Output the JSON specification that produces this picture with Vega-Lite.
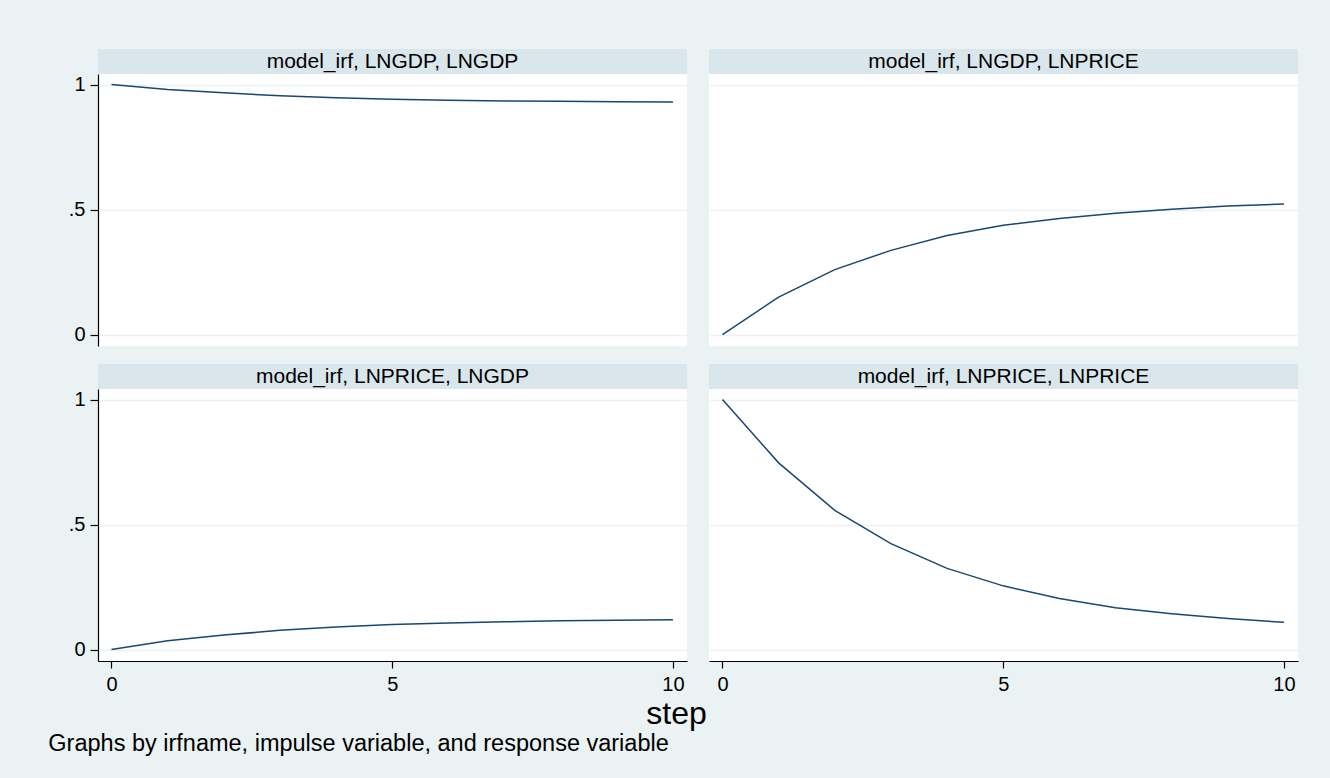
{
  "$schema": "https://vega.github.io/schema/vega-lite/v6.json",
  "background": "#EAF2F3",
  "padding": {"left": 48, "top": 49, "right": 32, "bottom": 22},
  "datasets": {
    "irf": [
      {"impulse": "LNGDP", "response": "LNGDP", "step": 0, "irf": 1.0},
      {"impulse": "LNGDP", "response": "LNGDP", "step": 1, "irf": 0.980},
      {"impulse": "LNGDP", "response": "LNGDP", "step": 2, "irf": 0.967},
      {"impulse": "LNGDP", "response": "LNGDP", "step": 3, "irf": 0.955},
      {"impulse": "LNGDP", "response": "LNGDP", "step": 4, "irf": 0.947},
      {"impulse": "LNGDP", "response": "LNGDP", "step": 5, "irf": 0.941},
      {"impulse": "LNGDP", "response": "LNGDP", "step": 6, "irf": 0.937},
      {"impulse": "LNGDP", "response": "LNGDP", "step": 7, "irf": 0.934},
      {"impulse": "LNGDP", "response": "LNGDP", "step": 8, "irf": 0.933},
      {"impulse": "LNGDP", "response": "LNGDP", "step": 9, "irf": 0.931},
      {"impulse": "LNGDP", "response": "LNGDP", "step": 10, "irf": 0.930},
      {"impulse": "LNGDP", "response": "LNPRICE", "step": 0, "irf": 0.0},
      {"impulse": "LNGDP", "response": "LNPRICE", "step": 1, "irf": 0.150},
      {"impulse": "LNGDP", "response": "LNPRICE", "step": 2, "irf": 0.260},
      {"impulse": "LNGDP", "response": "LNPRICE", "step": 3, "irf": 0.337},
      {"impulse": "LNGDP", "response": "LNPRICE", "step": 4, "irf": 0.396},
      {"impulse": "LNGDP", "response": "LNPRICE", "step": 5, "irf": 0.437},
      {"impulse": "LNGDP", "response": "LNPRICE", "step": 6, "irf": 0.464},
      {"impulse": "LNGDP", "response": "LNPRICE", "step": 7, "irf": 0.485},
      {"impulse": "LNGDP", "response": "LNPRICE", "step": 8, "irf": 0.501},
      {"impulse": "LNGDP", "response": "LNPRICE", "step": 9, "irf": 0.514},
      {"impulse": "LNGDP", "response": "LNPRICE", "step": 10, "irf": 0.522},
      {"impulse": "LNPRICE", "response": "LNGDP", "step": 0, "irf": 0.0},
      {"impulse": "LNPRICE", "response": "LNGDP", "step": 1, "irf": 0.035},
      {"impulse": "LNPRICE", "response": "LNGDP", "step": 2, "irf": 0.058},
      {"impulse": "LNPRICE", "response": "LNGDP", "step": 3, "irf": 0.077},
      {"impulse": "LNPRICE", "response": "LNGDP", "step": 4, "irf": 0.090},
      {"impulse": "LNPRICE", "response": "LNGDP", "step": 5, "irf": 0.100},
      {"impulse": "LNPRICE", "response": "LNGDP", "step": 6, "irf": 0.106},
      {"impulse": "LNPRICE", "response": "LNGDP", "step": 7, "irf": 0.111},
      {"impulse": "LNPRICE", "response": "LNGDP", "step": 8, "irf": 0.115},
      {"impulse": "LNPRICE", "response": "LNGDP", "step": 9, "irf": 0.117},
      {"impulse": "LNPRICE", "response": "LNGDP", "step": 10, "irf": 0.119},
      {"impulse": "LNPRICE", "response": "LNPRICE", "step": 0, "irf": 1.0},
      {"impulse": "LNPRICE", "response": "LNPRICE", "step": 1, "irf": 0.747},
      {"impulse": "LNPRICE", "response": "LNPRICE", "step": 2, "irf": 0.557},
      {"impulse": "LNPRICE", "response": "LNPRICE", "step": 3, "irf": 0.424},
      {"impulse": "LNPRICE", "response": "LNPRICE", "step": 4, "irf": 0.325},
      {"impulse": "LNPRICE", "response": "LNPRICE", "step": 5, "irf": 0.255},
      {"impulse": "LNPRICE", "response": "LNPRICE", "step": 6, "irf": 0.204},
      {"impulse": "LNPRICE", "response": "LNPRICE", "step": 7, "irf": 0.167},
      {"impulse": "LNPRICE", "response": "LNPRICE", "step": 8, "irf": 0.143},
      {"impulse": "LNPRICE", "response": "LNPRICE", "step": 9, "irf": 0.124},
      {"impulse": "LNPRICE", "response": "LNPRICE", "step": 10, "irf": 0.109}
    ],
    "headers": [
      {"impulse": "LNGDP", "response": "LNGDP", "label": "model_irf, LNGDP, LNGDP"},
      {"impulse": "LNGDP", "response": "LNPRICE", "label": "model_irf, LNGDP, LNPRICE"},
      {"impulse": "LNPRICE", "response": "LNGDP", "label": "model_irf, LNPRICE, LNGDP"},
      {"impulse": "LNPRICE", "response": "LNPRICE", "label": "model_irf, LNPRICE, LNPRICE"}
    ]
  },
  "title": {
    "text": "Graphs by irfname, impulse variable, and response variable",
    "orient": "bottom",
    "anchor": "start",
    "font": "Liberation Sans",
    "fontSize": 23.5,
    "fontWeight": "normal",
    "color": "black",
    "offset": 3,
    "dx": -20
  },
  "columns": 2,
  "spacing": {"row": 18, "column": 2},
  "concat": [
    {
      "spacing": 0,
      "vconcat": [
        {
          "width": 589, "height": 25,
          "view": {"fill": "#D9E6EB", "stroke": null},
          "data": {"name": "headers"},
          "transform": [{"filter": "datum.impulse == 'LNGDP' && datum.response == 'LNGDP'"}],
          "mark": {"type": "text", "font": "Liberation Sans", "fontSize": 21, "baseline": "middle", "color": "black"},
          "encoding": {"text": {"field": "label"}}
        },
        {
          "width": 589, "height": 272,
          "view": {"fill": "white", "stroke": null},
          "data": {"name": "irf"},
          "transform": [{"filter": "datum.impulse == 'LNGDP' && datum.response == 'LNGDP'"}],
          "mark": {"type": "line", "color": "#1A476F", "strokeWidth": 1.5},
          "encoding": {
            "x": {"field": "step", "type": "quantitative", "scale": {"domain": [-0.24, 10.25], "nice": false, "zero": false}, "axis": null},
            "y": {"field": "irf", "type": "quantitative", "scale": {"domain": [-0.0456, 1.0424], "nice": false, "zero": false},
              "axis": {"title": null, "values": [0, 0.5, 1], "labelExpr": "datum.value == 0.5 ? '.5' : format(datum.value, 'd')", "grid": true, "gridColor": "#EAF2F3", "gridWidth": 1.3, "domain": true, "domainColor": "black", "domainWidth": 1.2, "ticks": true, "tickColor": "black", "tickSize": 8, "tickWidth": 1.2, "labelFont": "Liberation Sans", "labelFontSize": 20, "labelColor": "black", "labelPadding": 5}}
          }
        }
      ]
    },
    {
      "spacing": 0,
      "vconcat": [
        {
          "width": 589, "height": 25,
          "view": {"fill": "#D9E6EB", "stroke": null},
          "data": {"name": "headers"},
          "transform": [{"filter": "datum.impulse == 'LNGDP' && datum.response == 'LNPRICE'"}],
          "mark": {"type": "text", "font": "Liberation Sans", "fontSize": 21, "baseline": "middle", "color": "black"},
          "encoding": {"text": {"field": "label"}}
        },
        {
          "width": 589, "height": 272,
          "view": {"fill": "white", "stroke": null},
          "data": {"name": "irf"},
          "transform": [{"filter": "datum.impulse == 'LNGDP' && datum.response == 'LNPRICE'"}],
          "mark": {"type": "line", "color": "#1A476F", "strokeWidth": 1.5},
          "encoding": {
            "x": {"field": "step", "type": "quantitative", "scale": {"domain": [-0.24, 10.25], "nice": false, "zero": false}, "axis": null},
            "y": {"field": "irf", "type": "quantitative", "scale": {"domain": [-0.0456, 1.0424], "nice": false, "zero": false},
              "axis": {"title": null, "values": [0, 0.5, 1], "grid": true, "gridColor": "#EAF2F3", "gridWidth": 1.3, "domain": false, "ticks": false, "labels": false}}
          }
        }
      ]
    },
    {
      "spacing": 0,
      "vconcat": [
        {
          "width": 589, "height": 25,
          "view": {"fill": "#D9E6EB", "stroke": null},
          "data": {"name": "headers"},
          "transform": [{"filter": "datum.impulse == 'LNPRICE' && datum.response == 'LNGDP'"}],
          "mark": {"type": "text", "font": "Liberation Sans", "fontSize": 21, "baseline": "middle", "color": "black"},
          "encoding": {"text": {"field": "label"}}
        },
        {
          "width": 589, "height": 272,
          "view": {"fill": "white", "stroke": null},
          "data": {"name": "irf"},
          "transform": [{"filter": "datum.impulse == 'LNPRICE' && datum.response == 'LNGDP'"}],
          "mark": {"type": "line", "color": "#1A476F", "strokeWidth": 1.5},
          "encoding": {
            "x": {"field": "step", "type": "quantitative", "scale": {"domain": [-0.24, 10.25], "nice": false, "zero": false},
              "axis": {"title": "step", "values": [0, 5, 10], "format": "d", "grid": false, "domain": true, "domainColor": "black", "domainWidth": 1.2, "ticks": true, "tickColor": "black", "tickSize": 7, "tickWidth": 1.2, "labelFont": "Liberation Sans", "labelFontSize": 20, "labelColor": "black", "labelPadding": 6, "titleFont": "Liberation Sans", "titleFontSize": 32, "titleFontWeight": "normal", "titleColor": "black", "titleX": 578, "titleY": 62, "titleBaseline": "alphabetic", "titleAnchor": "middle", "titleAlign": "center"}},
            "y": {"field": "irf", "type": "quantitative", "scale": {"domain": [-0.0456, 1.0424], "nice": false, "zero": false},
              "axis": {"title": null, "values": [0, 0.5, 1], "labelExpr": "datum.value == 0.5 ? '.5' : format(datum.value, 'd')", "grid": true, "gridColor": "#EAF2F3", "gridWidth": 1.3, "domain": true, "domainColor": "black", "domainWidth": 1.2, "ticks": true, "tickColor": "black", "tickSize": 8, "tickWidth": 1.2, "labelFont": "Liberation Sans", "labelFontSize": 20, "labelColor": "black", "labelPadding": 5}}
          }
        }
      ]
    },
    {
      "spacing": 0,
      "vconcat": [
        {
          "width": 589, "height": 25,
          "view": {"fill": "#D9E6EB", "stroke": null},
          "data": {"name": "headers"},
          "transform": [{"filter": "datum.impulse == 'LNPRICE' && datum.response == 'LNPRICE'"}],
          "mark": {"type": "text", "font": "Liberation Sans", "fontSize": 21, "baseline": "middle", "color": "black"},
          "encoding": {"text": {"field": "label"}}
        },
        {
          "width": 589, "height": 272,
          "view": {"fill": "white", "stroke": null},
          "data": {"name": "irf"},
          "transform": [{"filter": "datum.impulse == 'LNPRICE' && datum.response == 'LNPRICE'"}],
          "mark": {"type": "line", "color": "#1A476F", "strokeWidth": 1.5},
          "encoding": {
            "x": {"field": "step", "type": "quantitative", "scale": {"domain": [-0.24, 10.25], "nice": false, "zero": false},
              "axis": {"title": null, "values": [0, 5, 10], "format": "d", "grid": false, "domain": true, "domainColor": "black", "domainWidth": 1.2, "ticks": true, "tickColor": "black", "tickSize": 7, "tickWidth": 1.2, "labelFont": "Liberation Sans", "labelFontSize": 20, "labelColor": "black", "labelPadding": 6}},
            "y": {"field": "irf", "type": "quantitative", "scale": {"domain": [-0.0456, 1.0424], "nice": false, "zero": false},
              "axis": {"title": null, "values": [0, 0.5, 1], "grid": true, "gridColor": "#EAF2F3", "gridWidth": 1.3, "domain": false, "ticks": false, "labels": false}}
          }
        }
      ]
    }
  ]
}
